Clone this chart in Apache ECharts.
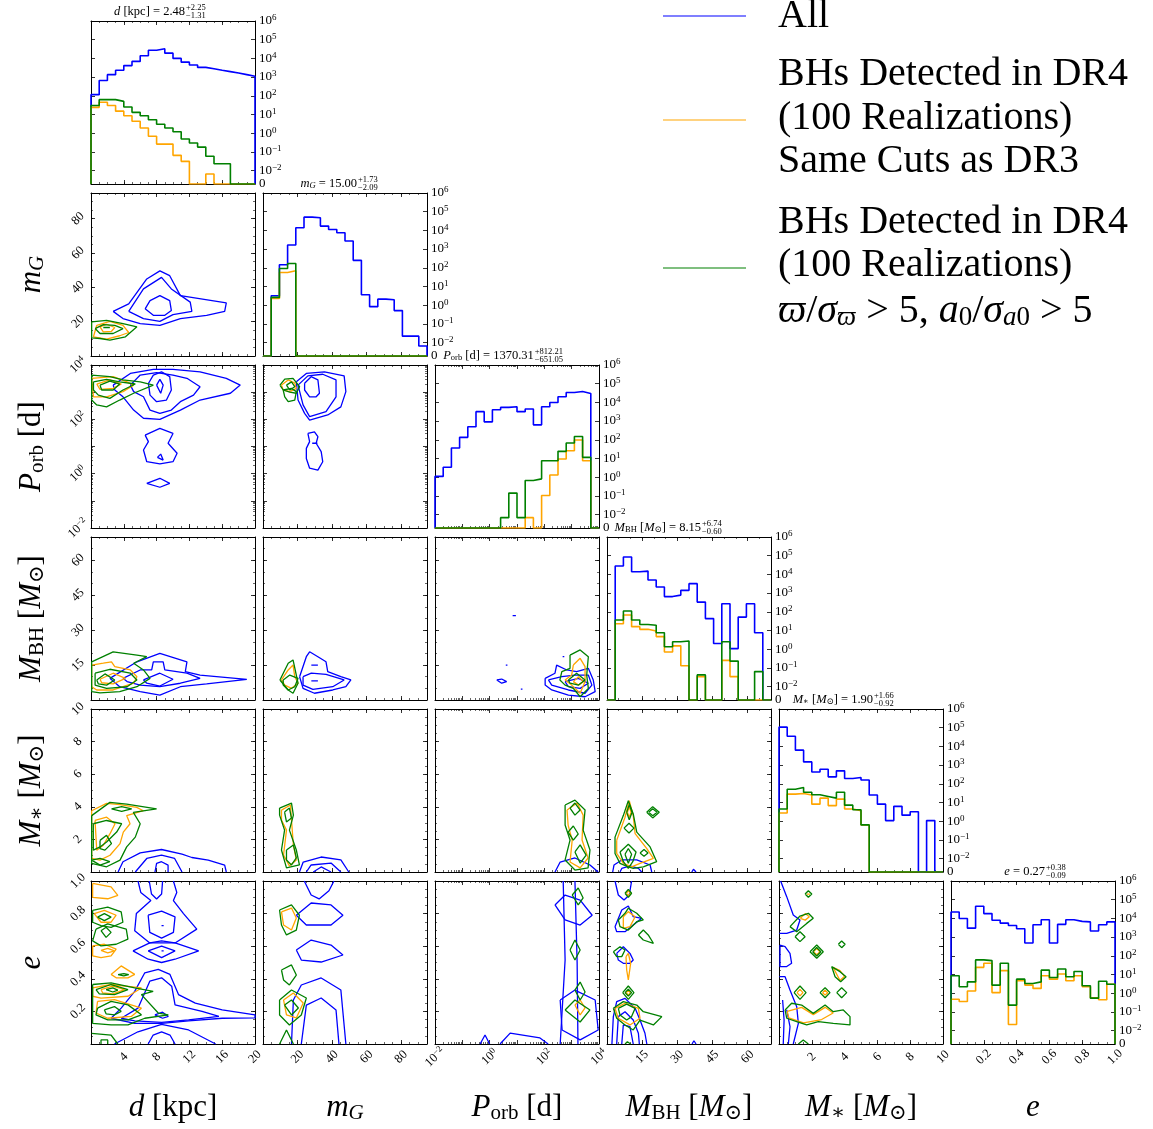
<!DOCTYPE html>
<html>
<head>
<meta charset="utf-8">
<script src="https://cdn.jsdelivr.net/npm/echarts@6/dist/echarts.min.js"></script>
<style>
html,body{margin:0;padding:0;background:#fff}
#main{width:1153px;height:1129px}
</style>
</head>
<body>
<div id="main"></div>
<script>
// ---------- axis ranges & tick labels ----------
var axisMin = [0, 0, -2, 0, 0, 0];
var axisMax = [20, 95, 4, 70, 10, 1];
var ticks_d = [4, 8, 12, 16, 20];
var ticks_mG = [20, 40, 60, 80];
var ticks_P = [-2, 0, 2, 4];
var ticks_MBH = [15, 30, 45, 60];
var ticks_Mst = [2, 4, 6, 8, 10];
var ticks_e = [0.2, 0.4, 0.6, 0.8, 1.0];
var histLevels = [0, 0.01, 0.1, 1, 10, 100, 1000, 1e4, 1e5, 1e6];

// ---------- 1D histograms (20 bins, weighted counts) ----------
var hist_d_all = [115,660,1350,2300,4100,6900,13800,27000,33000,19000,10000,6300,4400,3300,2800,2300,1950,1650,1350,1100];
var hist_d_dr3 = [24,45,30,15,8.5,4.3,1.9,0.68,0.26,0.26,0.065,0.031,0,0,0.0065,0,0,0,0,0];
var hist_d_dr4 = [30,62,62,50,25,13,8.5,5.2,3,1.9,1.2,0.49,0.3,0.18,0.058,0.023,0.023,0,0,0];

var hist_mG_all = [0,3.2,145,1650,13800,51000,47000,17000,11200,7500,2700,250,3.6,0.83,2.1,1.95,0.51,0.022,0.022,0.0065];
var hist_mG_dr3 = [0,2.3,56,69,0,0,0,0,0,0,0,0,0,0,0,0,0,0,0,0];
var hist_mG_dr4 = [0,2.6,91,170,0,0,0,0,0,0,0,0,0,0,0,0,0,0,0,0];

var hist_P_all = [1.1,3.4,36,135,500,3200,910,4000,5400,5800,3200,4400,630,5800,9800,20000,34000,38000,30000,0];
var hist_P_dr3 = [0,0,0,0,0,0,0,0,0,0,0,0.0068,0,0.105,1.3,9.4,26,97,7.6,0];
var hist_P_dr4 = [0,0,0,0,0,0,0,0,0.0068,0.14,0.0068,0.66,0.81,7.6,7.6,24,67,150,11.5,0];

var hist_MBH_all = [0,28000,85000,13800,15000,5000,2100,650,780,1400,3200,330,43,2,270,1.07,52,270,7.6,0];
var hist_MBH_dr3 = [0,23,67,16,11.5,9.3,4.7,0.71,1.5,0.13,0,0.034,0,0,0.25,0.034,0,0,0,0];
var hist_MBH_dr4 = [0,36,110,36,21,19,7.6,1.35,2.5,2.75,0,0.042,0,0,2.5,0.23,0,0,0.063,0];

var hist_Mst_all = [107000,35000,6300,1480,430,600,235,490,190,215,160,25,8.1,1.07,6.2,2.1,3.2,0,1.07,0];
var hist_Mst_dr3 = [2.75,28,30,25,8.1,17,6.8,15,4.5,3.6,0.63,0,0,0,0,0,0,0,0,0];
var hist_Mst_dr4 = [4.5,51,63,35,26,21,17,35,7.2,4.1,0.63,0,0,0,0,0,0,0,0,0];

var hist_e_all = [22000,9800,3000,45000,18000,7900,5600,4200,2800,480,4600,8500,480,4800,8500,6900,6500,2100,4600,6500];
var hist_e_dr3 = [0.47,0.36,1.3,24,40,1.07,16,0.021,4.6,2.7,1.8,8.5,5.6,10.5,4.6,8.5,2.2,0.57,0.44,3];
var hist_e_dr4 = [8.5,2.2,4,60,55,2.7,40,0.23,5.6,3.3,4,17,6.9,19.5,7.6,14.5,2.5,0.54,4.3,3];

// ---------- 2D contours, in data units [x, y] ----------
var cont_mG_d = {
  all: [
    [[2.7,26],[4.6,30.4],[6.8,44.9],[8.4,49.6],[9.6,46.8],[10.9,35.2],[16.5,31],[16.3,26],[14.1,23.7],[10.9,21.8],[8.4,17.9],[6.0,18.9],[3.9,21.8]],
    [[4.6,26],[6.4,39.1],[8.6,45.8],[9.8,39.1],[12.1,31.4],[12.3,26],[10,24.1],[8.4,20.2],[6.4,21.8]],
    [[6.6,27.5],[7.2,32.3],[8.4,35.2],[9.6,32.3],[9.8,26.5],[9,23.7],[7.6,23.7]]
  ],
  dr3: [
    [[0.7,17.9],[2.3,20.2],[3.9,17.9],[4.6,13.7],[3.5,11.8],[1.9,9.8],[0.3,11.2]],
    [[1.1,17],[1.9,18.5],[2.9,16.6],[2.5,14.4],[1.5,14.1]]
  ],
  dr4: [
    [[0.08,19.9],[1.9,20.8],[3.9,18.9],[5.6,17],[4.2,11.2],[2.3,9.3],[1.1,10.2],[0.08,10.6]],
    [[0.5,16],[1.5,18.3],[2.9,17.9],[3.9,16],[2.7,13.1],[1.1,13.1]]
  ],
  dr4Open: [[[1.5,16.6],[2.3,16.6]]]
};

var cont_P_d = {
  all: [
    [[2.7,3.26],[4.8,3.69],[7.6,3.84],[10,3.84],[13.3,3.75],[16.5,3.51],[18.2,3.26],[17,2.96],[13.3,2.71],[10.9,2.34],[8.4,2.0],[6.4,2.04],[5.2,2.34],[3.9,2.83],[2.9,3.08]],
    [[4.8,3.26],[6,3.63],[8,3.72],[10,3.63],[11.7,3.51],[13.3,3.2],[12.5,2.89],[10.9,2.65],[9.8,2.34],[8.4,2.22],[7.2,2.34],[6.4,2.83],[5.2,3.02]],
    [[7,3.32],[7.6,3.63],[8.6,3.75],[9.6,3.57],[9.8,3.08],[9.2,2.71],[8,2.65],[7.2,2.89]],
    [[8,3.26],[8.4,3.47],[8.8,3.26],[8.5,2.96]],
    [[6.6,1.42],[8.4,1.67],[10,1.48],[9.4,1.12],[10.5,0.75],[10,0.44],[8.4,0.36],[6.8,0.44],[6.4,0.87],[7,1.18]],
    [[8.1,0.6],[8.5,0.72],[8.8,0.5]],
    [[6.8,-0.36],[8.4,-0.17],[9.6,-0.36],[8.4,-0.5]]
  ],
  dr3: [
    [[0.08,3.51],[2.7,3.57],[4.4,3.38],[5.2,3.26],[3.9,3.02],[1.9,2.83],[0.3,2.83]],
    [[0.7,3.3],[2.3,3.45],[3.7,3.3],[2.7,3.14],[1.1,3.1]]
  ],
  dr4: [
    [[0.08,3.63],[2.3,3.57],[3.9,3.45],[6,3.38],[7.6,3.26],[5.2,2.96],[3.5,2.71],[1.9,2.46],[0.7,2.53],[0.08,2.71]],
    [[0.3,3.38],[1.9,3.47],[3.5,3.38],[5.4,3.3],[3.9,3.08],[2.3,2.77],[0.9,2.89],[0.3,3.08]],
    [[1.1,3.26],[2.3,3.41],[3.5,3.3],[2.7,3.08],[1.3,3.08]]
  ]
};

var cont_P_mG = {
  all: [
    [[19.3,3.38],[25.1,3.69],[35.6,3.75],[47,3.6],[48,3.02],[45.1,2.46],[37.5,2.16],[27,1.97],[24.1,2.22],[20.3,2.71]],
    [[20.3,3.26],[26,3.6],[34.6,3.66],[42.3,3.45],[42.3,2.83],[36.5,2.28],[27,2.1],[23.2,2.53]],
    [[24.1,3.33],[27.9,3.57],[31.8,3.45],[32.7,2.96],[30.8,2.83],[27,2.83],[24.1,3.08]],
    [[26,1.48],[29.8,1.54],[31.8,1.36],[30.8,1.12],[33.7,0.81],[34.6,0.44],[31.8,0.13],[27,0.2],[25.1,0.56],[25.1,0.93],[27,1.18]]
  ],
  allOpen: [[[28.5,1.12],[31.5,1.12]]],
  dr3: [
    [[10.7,3.26],[14.6,3.45],[18.4,3.33],[19.3,3.14],[15.5,3.02],[11.7,3.08]]
  ],
  dr4: [
    [[9.8,3.26],[12.6,3.48],[17.4,3.51],[21.2,3.2],[19.3,2.96],[15.5,3.0],[11.7,3.08]],
    [[13.6,3.26],[16.5,3.38],[18.4,3.2],[15.5,3.08]],
    [[11.7,3.08],[16.5,3.14],[19.3,3.02],[18.4,2.71],[14.6,2.65],[12.6,2.83]]
  ]
};

var cont_MBH_d = {
  all: [
    [[2.3,9.3],[5.6,16.4],[8.4,20],[11.7,16.4],[11.5,12.2],[13.3,10.7],[19,8.9],[14.1,6.9],[10.9,5.7],[8.4,2.1],[6,3.6],[3.5,5.7]],
    [[3.9,9.3],[6,12.9],[7.4,12.9],[7.6,16.4],[8.8,16.4],[9,12.9],[11.7,11.5],[13.3,9.3],[10.9,7.2],[8.4,5.7],[6,6.4],[4.4,7.9]],
    [[6.4,8.6],[8.4,11.5],[10,8.9],[8.4,6],[6.8,7.2]]
  ],
  dr3: [
    [[0.08,15],[1.5,15.8],[2.5,16.4],[2.9,14.3],[4.8,12.9],[5.6,10],[5.2,7.2],[2.7,4.3],[0.7,4.3],[0.08,5.7]],
    [[1.1,8.9],[2.7,11.5],[4.2,9.3],[2.7,6.9],[1.3,7.4]]
  ],
  dr4: [
    [[0.08,16.4],[2.7,20.7],[5.6,19.3],[6.8,18.6],[5.2,15.8],[6.4,12.9],[7.2,9.3],[5.6,5.7],[3.5,3.6],[1.1,3.1],[0.08,3.6]],
    [[0.5,11.5],[2.3,13.2],[4.8,11.5],[5.6,8.6],[4.4,5.7],[1.9,5],[0.5,6.4]],
    [[0.7,8.6],[1.7,11.2],[2.9,8.6],[1.9,6.4],[0.9,6.9]]
  ]
};

var cont_MBH_mG = {
  all: [
    [[21.2,10],[25.1,18.6],[27,20.7],[31.8,18.6],[36.5,16.4],[37.5,12.2],[45.1,10],[50.9,8.6],[48,5.7],[40.4,4.3],[29.8,2.9],[23.2,5]],
    [[23.2,10],[28,11.5],[36.5,11],[47,8.6],[40.4,5.7],[28.9,4.6],[23.2,6.4]]
  ],
  allOpen: [[[28,15],[31.8,15]], [[28,8.2],[31.8,8.2]]],
  dr3: [
    [[10.7,8.6],[14.6,12.9],[17.4,15],[18.4,10],[20.3,7.2],[16.5,5],[12.6,6.4]]
  ],
  dr4: [
    [[9.8,8.6],[14.6,15.8],[17.4,17.2],[19.3,10.7],[20.3,7.2],[17.4,2.9],[14.6,4.3]],
    [[11.7,8.6],[15.5,10.7],[20.3,9.3],[18.4,5.7],[14.6,4.3],[11.7,6.4]]
  ]
};

var cont_MBH_P = {
  all: [
    [[2.03,9.3],[2.39,11.5],[2.45,15],[2.82,12.9],[3.18,12.2],[3.61,13.6],[3.79,8.6],[3.86,3.6],[3.49,1.4],[2.88,2.1],[2.27,4.3],[2.03,6.4]],
    [[2.15,8.6],[2.64,10],[3.12,10.7],[3.61,10.7],[3.74,6.4],[3.49,2.9],[2.88,4.3],[2.27,6.4]],
    [[2.76,7.9],[3.25,9.3],[3.61,7.2],[3.31,5],[2.88,5.7]],
    [[0.26,8.6],[0.44,9],[0.62,7.9],[0.44,7.2]],
    [[0.84,36.2],[0.9,36.9],[0.96,36.2],[0.9,35.5]],
    [[0.59,15],[0.62,15.3],[0.65,15],[0.62,14.7]],
    [[1.14,4.7],[1.17,5],[1.2,4.7],[1.17,4.4]],
    [[2.67,18.6],[2.7,18.9],[2.73,18.6],[2.7,18.3]]
  ],
  dr3: [
    [[3.06,15],[3.31,17.9],[3.49,14.3],[3.49,7.9],[3.31,2.9],[3.0,6.4],[2.76,8.6],[3.0,10.7]],
    [[3.06,7.9],[3.25,10],[3.43,7.9],[3.25,6.4]]
  ],
  dr4: [
    [[2.94,19.3],[3.31,21.5],[3.61,18.6],[3.55,10.7],[3.61,5],[3.31,1.4],[3.06,5],[2.76,6.4],[2.57,8.6],[2.64,12.2],[2.94,13.6]],
    [[2.88,8.6],[3.18,11.5],[3.49,8.6],[3.25,6.4],[2.94,7.2]]
  ]
};

var cont_Mst_d = {
  allOpen: [
    [[3.3,0],[3.9,0.63],[6,1.17],[8.6,1.38],[11.1,1.09],[12.3,0.89],[14.3,0.73],[16.3,0.42],[16.5,0]],
    [[5.4,0],[6.8,0.83],[8.6,1.03],[10.2,0.83],[11.1,0]],
    [[7.8,0],[8,0.53],[8.6,0.63],[9.4,0.42],[9.4,0]]
  ],
  dr3: [
    [[0.08,3.76],[1.9,4.21],[3.54,4.13],[5.57,3.96],[6.38,3.76],[4.35,3.46],[4.76,2.96],[3.94,2.45],[3.54,1.74],[2.32,1.03],[1.1,0.73],[0.08,0.83]],
    [[0.49,3.16],[1.91,3.36],[2.93,2.96],[2.32,2.35],[1.5,1.64],[0.7,1.34]]
  ],
  dr4: [
    [[0.08,3.46],[2.3,4.27],[4.35,4.17],[8,3.87],[5.16,3.66],[6,2.96],[5.4,2.14],[4.35,1.54],[3.54,0.73],[1.9,0.32],[0.08,0.53]],
    [[0.28,2.96],[1.9,3.16],[3.74,2.96],[3.13,2.45],[1.9,1.84],[1.1,1.54],[0.28,1.34]],
    [[2.5,3.87],[3.74,4.01],[4.96,3.87],[3.74,3.72]],
    [[1.1,1.94],[1.9,2.25],[2.5,1.74],[1.7,1.34],[1.1,1.44]],
    [[0.08,0.73],[1.1,0.83],[2.3,0.63],[1.1,0.42]]
  ]
};

var cont_Mst_mG = {
  allOpen: [
    [[21.1,0],[23.3,0.61],[33.7,0.92],[45.1,0.74],[49.7,0]],
    [[25.1,0],[27.9,0.43],[39.4,0.55],[45.1,0]],
    [[29.1,0],[33.7,0.31],[39.4,0]]
  ],
  dr3: [
    [[10.7,3.8],[15.9,4.11],[16.5,3.19],[17.6,1.66],[19.3,0.74],[15.3,0.37],[11.9,1.04],[13.6,2.57],[10.7,3.19]]
  ],
  dr4: [
    [[9.6,3.92],[16.5,4.23],[17.6,3.49],[15.3,2.57],[19.3,1.35],[21.1,0.43],[13.6,0.25],[10.7,1.35],[12.5,2.57],[9.6,3.49]],
    [[12.5,3.68],[15.3,3.92],[16.5,3.31],[13.6,3.07]],
    [[13.6,1.35],[17.6,1.66],[19.3,0.86],[16.5,0.43],[13.6,0.74]]
  ]
};

var cont_Mst_P = {
  allOpen: [
    [[2.39,0],[2.58,0.61],[3.12,0.86],[3.67,0.43],[3.97,0]]
  ],
  dr3: [
    [[2.83,3.8],[3.2,4.23],[3.42,3.49],[3.38,1.96],[3.6,0.86],[3.31,0.25],[2.94,0.61],[3.02,1.96],[2.87,2.88]]
  ],
  dr4: [
    [[2.76,4.11],[3.12,4.41],[3.49,3.8],[3.42,2.57],[3.67,1.35],[3.6,0.25],[3.12,0.12],[2.76,0.74],[2.94,1.96],[2.76,2.88]],
    [[2.94,3.92],[3.12,4.23],[3.31,3.8],[3.12,3.49]],
    [[2.87,2.45],[3.06,2.82],[3.24,2.33],[3.06,1.96]],
    [[3.12,1.23],[3.31,1.66],[3.53,1.04],[3.31,0.55]]
  ]
};

var cont_Mst_MBH = {
  allOpen: [
    [[2.43,0],[3.0,0.43],[6.3,0.74],[12.7,0.74],[18.4,0.43],[19.1,0]],
    [[5.55,0],[6.3,0.22],[9.8,0.37],[13.4,0.22],[14.8,0]],
    [[36.2,0],[36.9,0.17],[38,0]]
  ],
  dr3: [
    [[4.14,1.94],[7.69,3.36],[9.5,4.37],[11.2,3.46],[12,2.35],[17,1.44],[19.8,0.83],[14.1,0.53],[10.5,0.32],[7,0.53],[4.14,1.14]],
    [[8.7,3.66],[9.5,3.98],[10.3,3.66],[9.5,3.35]]
  ],
  dr4: [
    [[3.42,2.14],[6.96,3.46],[9.1,4.37],[11.2,3.56],[12.7,2.45],[18.4,1.54],[21.2,0.63],[15.5,0.32],[11.2,0.22],[9.1,0.32],[5.55,0.53],[3.42,1.14]],
    [[8.4,3.66],[9.5,4.13],[10.7,3.66],[9.5,3.2]],
    [[7.26,2.69],[9.4,2.99],[11.5,2.69],[9.4,2.39]],
    [[5.55,1.23],[9.1,1.7],[12.4,1.23],[11,0.63],[9.1,0.22],[7,0.63]],
    [[7.69,1.09],[9.1,1.44],[10.5,1.09],[9.1,0.53]],
    [[14.1,1.17],[15.8,1.38],[17.5,1.17],[15.8,0.97]],
    [[16.95,3.66],[19.5,4.01],[22.3,3.66],[19.5,3.32]],
    [[17.8,3.66],[19.5,3.88],[21.4,3.66],[19.5,3.45]]
  ]
};

var cont_e_d = {
  all: [
    [[6.97,0.79],[8.61,0.815],[10.25,0.78],[10.05,0.685],[8.61,0.65],[7.17,0.685]],
    [[5.12,0.571],[7.17,0.62],[8.61,0.633],[10.25,0.62],[13.13,0.571],[10.25,0.52],[8.61,0.5],[6.97,0.52]],
    [[6.97,0.571],[8.61,0.6],[10.25,0.571],[8.61,0.53]],
    [[2.45,0.158],[3.68,0.22],[5.33,0.323],[6.56,0.437],[8.2,0.458],[9.63,0.427],[10.67,0.303],[12.72,0.251],[16,0.21],[20,0.179],[20,0.16],[16,0.158],[11.9,0.142],[8.61,0.127],[5.33,0.127]],
    [[3.68,0.158],[5.73,0.22],[7.17,0.385],[8.61,0.406],[9.84,0.355],[10.25,0.24],[13.54,0.2],[15.6,0.169],[11.9,0.148],[8.61,0.133],[5.33,0.142]],
    [[7.79,0.179],[8.73,0.195],[9.43,0.169],[8.73,0.158]],
    [[8.6,0.726],[8.73,0.733],[8.86,0.726],[8.73,0.719]],
    [[8.6,0.571],[8.73,0.578],[8.86,0.571],[8.73,0.564]]
  ],
  allOpen: [
    [[5.73,1],[6.07,0.93],[7.3,0.88],[5.53,0.8],[5.33,0.695],[7.17,0.62],[10.25,0.62],[12.9,0.705],[11.28,0.8],[10.05,0.88],[10.46,0.93],[10.05,1]],
    [[7.1,1],[7.38,0.92],[8,0.89],[8.61,0.92],[8.73,1]],
    [[2.86,0],[5.73,0.075],[8.61,0.12],[11.9,0.086],[15.2,0]],
    [[6.97,0],[7.58,0.055],[8.61,0.075],[9.63,0.055],[10.25,0]]
  ],
  dr3: [
    [[0.2,0.985],[2.45,0.964],[3.27,0.912],[2.04,0.891],[0.2,0.9]],
    [[0.4,0.8],[1.63,0.82],[3.07,0.79],[2.45,0.747],[1.22,0.747]],
    [[0.2,0.602],[1.63,0.612],[3.07,0.582],[2.45,0.54],[1.22,0.53],[0.2,0.54]],
    [[1.22,0.575],[2.04,0.586],[2.86,0.571],[2.04,0.559]],
    [[2.45,0.427],[3.68,0.479],[5.33,0.427],[4.5,0.406],[3.07,0.406]],
    [[0.2,0.344],[2.45,0.365],[6.15,0.344],[4.51,0.293],[1.22,0.282],[0.2,0.293]],
    [[1.22,0.334],[2.66,0.355],[4.1,0.334],[2.66,0.307],[1.43,0.313]],
    [[0.8,0.261],[2.86,0.272],[6.15,0.22],[4.91,0.169],[2.04,0.158],[0.61,0.19]]
  ],
  dr4: [
    [[0.2,0.82],[2.04,0.84],[3.68,0.81],[3.89,0.747],[2.45,0.716],[1.22,0.726],[0.2,0.747]],
    [[0.8,0.778],[1.63,0.8],[2.45,0.778],[1.63,0.757]],
    [[0.61,0.705],[2.04,0.737],[4.3,0.705],[4.5,0.643],[3.07,0.612],[1.22,0.602],[0.2,0.633]],
    [[1.22,0.695],[1.84,0.716],[2.45,0.685],[1.84,0.654]],
    [[0.2,0.365],[2.45,0.375],[5.33,0.344],[7.58,0.323],[6.15,0.303],[8.2,0.19],[9.43,0.179],[6.56,0.158],[4.51,0.117],[2.45,0.117],[0.2,0.127]],
    [[0.61,0.334],[2.45,0.365],[4.51,0.334],[2.86,0.303],[1.01,0.307]],
    [[1.84,0.334],[2.66,0.344],[3.27,0.33],[2.66,0.319]],
    [[0.8,0.22],[2.45,0.261],[4.51,0.24],[6.15,0.179],[4.51,0.148],[2.04,0.148],[0.61,0.179]],
    [[1.63,0.21],[2.86,0.23],[3.68,0.2],[2.86,0.179],[1.84,0.185]],
    [[3.3,0.425],[4.0,0.432],[4.6,0.425],[4.0,0.418]]
  ],
  dr4Open: [
    [[0.08,0.065],[2.45,0.055],[3.27,0]],
    [[1.22,0],[1.22,0.025],[2.04,0.025],[2.04,0]]
  ]
};

var cont_e_mG = {
  all: [
    [[19.3,0.79],[27.9,0.865],[39.4,0.853],[46.3,0.79],[39.4,0.73],[25.1,0.73]],
    [[19.3,0.577],[27.9,0.638],[39.4,0.607],[46.3,0.546],[33.7,0.503],[22.2,0.515]]
  ],
  allOpen: [
    [[23.9,1],[27.9,0.914],[32.5,0.89],[38.2,0.94],[41.1,1]],
    [[16.5,0],[17.6,0.27],[22.2,0.362],[33.7,0.405],[45.1,0.331],[48,0]],
    [[22.2,0],[25.1,0.239],[33.7,0.282],[42.3,0.209],[44,0]]
  ],
  dr3: [
    [[10.7,0.81],[16.5,0.834],[19.3,0.773],[16.5,0.699],[11.9,0.73]],
    [[11.9,0.27],[17.6,0.313],[23.3,0.252],[19.3,0.16],[13.6,0.178]]
  ],
  dr4: [
    [[9.6,0.822],[16.5,0.853],[21.1,0.79],[19.3,0.699],[13.6,0.669],[10.7,0.73]],
    [[10.7,0.454],[16.5,0.485],[19.3,0.423],[15.3,0.362],[11.9,0.393]],
    [[9.6,0.27],[16.5,0.331],[25.1,0.282],[22.2,0.178],[15.3,0.117],[9.6,0.178]],
    [[12.5,0.239],[16.5,0.27],[20.5,0.221],[16.5,0.178]]
  ],
  dr4Open: [[[9.6,0],[13.6,0.086],[17.6,0]]]
};

var cont_e_P = {
  all: [
    [[2.39,0.853],[2.76,0.914],[3.31,0.883],[3.75,0.79],[3.31,0.73],[2.76,0.761]],
    [[2.58,0.27],[3.12,0.331],[3.86,0.27],[3.97,0.086],[3.31,0.025],[2.65,0.086]]
  ],
  allOpen: [
    [[2.69,1],[2.76,0.515],[2.58,0]],
    [[3.12,1],[3.2,0.5],[3.23,0]],
    [[-0.35,0],[-0.17,0.055],[0,0]],
    [[0.38,0],[0.75,0.067],[1.84,0.037],[2.14,0]]
  ],
  dr3: [
    [[3.12,0.239],[3.31,0.27],[3.49,0.221],[3.31,0.178]]
  ],
  dr4: [
    [[2.94,0.577],[3.12,0.638],[3.31,0.577],[3.12,0.515]],
    [[3.12,0.331],[3.31,0.38],[3.49,0.319],[3.31,0.27]],
    [[2.76,0.209],[3.12,0.27],[3.67,0.209],[3.31,0.135]],
    [[3.02,0.914],[3.24,0.957],[3.42,0.896],[3.24,0.853]]
  ]
};

var cont_e_MBH = {
  all: [
    [[3.42,0.72],[6.3,0.822],[9.1,0.847],[11.2,0.781],[14.8,0.771],[11.2,0.73],[7.69,0.689],[4.14,0.689]],
    [[4.14,0.556],[6.96,0.597],[9.8,0.556],[11.2,0.515],[9.8,0.495],[6.96,0.495],[4.83,0.515]]
  ],
  allOpen: [
    [[3.42,1],[4.83,0.914],[7.26,0.883],[9.5,0.914],[10.5,1]],
    [[2.1,0],[2.7,0.168],[4.14,0.26],[7.69,0.28],[12,0.219],[14.1,0.147],[16.2,0.066],[17,0]],
    [[4.14,0],[4.83,0.168],[7.69,0.198],[11.2,0.147],[13.4,0.066],[13.8,0]],
    [[6.3,0],[6.96,0.117],[9.8,0.106],[11.2,0]],
    [[36.3,0],[37.1,0.02],[38,0]]
  ],
  dr3: [
    [[8.2,0.925],[9.1,0.94],[10,0.925],[9.1,0.91]],
    [[6.96,0.781],[9.1,0.812],[12,0.781],[9.8,0.72],[6.96,0.71]],
    [[3.42,0.219],[7.69,0.25],[13.4,0.219],[14.1,0.158],[9.8,0.117],[4.83,0.158]],
    [[8.1,0.536],[9.1,0.556],[10.1,0.495],[9.1,0.393],[8.4,0.454]],
    [[8.2,0.315],[9.1,0.33],[10,0.315],[9.1,0.3]]
  ],
  dr4: [
    [[7.69,0.925],[9.1,0.949],[10.5,0.925],[9.1,0.9]],
    [[7.69,0.802],[9.1,0.833],[12.7,0.802],[15.5,0.761],[12.7,0.75],[9.1,0.699],[5.55,0.72],[4.83,0.761]],
    [[13.4,0.669],[15.5,0.699],[17.6,0.669],[19.8,0.618],[15.5,0.638]],
    [[2.7,0.566],[5.55,0.597],[7.69,0.577],[6.3,0.536],[4.14,0.536]],
    [[6.7,0.315],[9.1,0.356],[11.5,0.315],[9.1,0.274]],
    [[7.69,0.315],[9.1,0.336],[10.5,0.315],[9.1,0.294]],
    [[2.7,0.219],[6.96,0.26],[12.7,0.239],[15.5,0.198],[23.4,0.168],[19.8,0.117],[14.1,0.147],[11.2,0.086],[7.69,0.117],[4.14,0.158]],
    [[4.83,0.219],[8.4,0.245],[12,0.219],[10.5,0.168],[8.4,0.147],[5.55,0.178]]
  ],
  dr4Open: [[[7.69,0],[8.7,0.014],[10.1,0]]]
};

var cont_e_Mst = {
  all: [
    [[0.06,0.607],[0.37,0.597],[0.67,0.556],[0.77,0.495],[0.47,0.475],[0.06,0.475]]
  ],
  allOpen: [
    [[0.1,1],[0.47,0.904],[0.87,0.791],[1.28,0.761],[1.08,0.699],[0.47,0.679],[0.02,0.679]],
    [[0.02,0.413],[0.37,0.413],[0.67,0.331],[1.08,0.229],[1.18,0.127],[0.87,0]],
    [[0.26,0],[0.31,0.147],[0.22,0.27]],
    [[0.57,0],[0.67,0.106],[0.47,0.209]]
  ],
  dr3: [
    [[1.69,0.92],[1.79,0.93],[1.89,0.92],[1.79,0.91]],
    [[1.3,0.771],[1.6,0.8],[1.85,0.78],[1.6,0.76]],
    [[2.1,0.566],[2.3,0.585],[2.5,0.566],[2.3,0.547]],
    [[3.3,0.47],[3.72,0.45],[4.0,0.415],[3.72,0.39]],
    [[1.1,0.315],[1.28,0.335],[1.46,0.315],[1.28,0.295]],
    [[2.65,0.315],[2.81,0.33],[2.97,0.315],[2.81,0.3]],
    [[0.5,0.2],[1.38,0.225],[2.09,0.18],[2.81,0.225],[3.3,0.19],[2.6,0.15],[1.5,0.13],[0.6,0.16]]
  ],
  dr4: [
    [[1.59,0.92],[1.79,0.94],[2.0,0.92],[1.79,0.9]],
    [[0.67,0.72],[1.28,0.785],[1.79,0.802],[2.09,0.771],[1.69,0.74],[1.08,0.689]],
    [[0.98,0.658],[1.28,0.689],[1.59,0.658],[1.28,0.628]],
    [[1.89,0.566],[2.3,0.607],[2.7,0.566],[2.3,0.526]],
    [[2.05,0.566],[2.3,0.592],[2.55,0.566],[2.3,0.54]],
    [[3.62,0.612],[3.82,0.632],[4.03,0.612],[3.82,0.591]],
    [[3.21,0.475],[3.72,0.444],[4.09,0.413],[3.76,0.382],[3.42,0.413]],
    [[0.92,0.315],[1.28,0.356],[1.65,0.315],[1.28,0.274]],
    [[2.5,0.315],[2.81,0.345],[3.11,0.315],[2.81,0.284]],
    [[3.52,0.315],[3.82,0.345],[4.13,0.315],[3.82,0.284]],
    [[0.37,0.209],[0.77,0.25],[1.38,0.239],[2.09,0.188],[2.81,0.239],[3.31,0.198],[3.92,0.209],[4.33,0.168],[4.33,0.117],[3.31,0.127],[2.4,0.137],[1.69,0.117],[1.08,0.137],[0.47,0.158]]
  ],
  dr4Open: [[[1.18,0],[1.48,0.025],[1.79,0]]]
};

// ---------- texts ----------
var histTitles = [
  ['{i|d} [kpc] = 2.48', '+2.25', '\u22121.31'],
  ['{i|m}{si|G} = 15.00', '+1.73', '\u22122.09'],
  ['{i|P}{s|orb} [d] = 1370.31', '+812.21', '\u2212651.05'],
  ['{i|M}{s|BH} [{i|M}{s|\u2299}] = 8.15', '+6.74', '\u22120.60'],
  ['{i|M}{s|\u2217} [{i|M}{s|\u2299}] = 1.90', '+1.66', '\u22120.92'],
  ['{i|e} = 0.27', '+0.38', '\u22120.09']
];
var axisTitles = [
  '{i|d} [kpc]',
  '{i|m}{si|G}',
  '{i|P}{s|orb} [d]',
  '{i|M}{s|BH} [{i|M}{s|\u2299}]',
  '{i|M}{s|\u2217} [{i|M}{s|\u2299}]',
  '{i|e}'
];

// ---------- build ----------
var SERIF = 'Liberation Serif, DejaVu Serif, serif';
var COL = {all: '#0000ff', dr3: '#ffa500', dr4: '#008000'};
var L0 = 91, T0 = 21, STEP = 172, W = 164, H = 163;
var ZERO_GAP = 0.72;

var majorLabels = [ticks_d, ticks_mG, ticks_P, ticks_MBH, ticks_Mst, ticks_e];
var majorMarks = [ticks_d, ticks_mG, [-2, -1, 0, 1, 2, 3, 4], ticks_MBH, ticks_Mst, ticks_e];
var minorStep = [1, 5, 0, 5, 0.5, 0.05];
var hists = [
  [hist_d_all, hist_d_dr3, hist_d_dr4],
  [hist_mG_all, hist_mG_dr3, hist_mG_dr4],
  [hist_P_all, hist_P_dr3, hist_P_dr4],
  [hist_MBH_all, hist_MBH_dr3, hist_MBH_dr4],
  [hist_Mst_all, hist_Mst_dr3, hist_Mst_dr4],
  [hist_e_all, hist_e_dr3, hist_e_dr4]
];
var contours = {
  '1_0': cont_mG_d,
  '2_0': cont_P_d, '2_1': cont_P_mG,
  '3_0': cont_MBH_d, '3_1': cont_MBH_mG, '3_2': cont_MBH_P,
  '4_0': cont_Mst_d, '4_1': cont_Mst_mG, '4_2': cont_Mst_P, '4_3': cont_Mst_MBH,
  '5_0': cont_e_d, '5_1': cont_e_mG, '5_2': cont_e_P, '5_3': cont_e_MBH, '5_4': cont_e_Mst
};

function histY(v) { return v > 0 ? Math.max(0, Math.log10(v) + 2 + ZERO_GAP) : 0; }
var histMarks = histLevels.map(histY);
var HIST_MAX = histY(1e6);

function minorTicks(k) {
  var out = [];
  if (k === 2) {
    for (var dec = -2; dec < 4; dec++) {
      for (var m = 2; m <= 9; m++) out.push(dec + Math.log10(m));
    }
    return out;
  }
  var s = minorStep[k];
  var n = Math.round((axisMax[k] - axisMin[k]) / s);
  for (var t = 0; t <= n; t++) out.push(+(axisMin[k] + t * s).toFixed(4));
  return out;
}

function supNum(v) { return v < 0 ? '\u2212' + (-v) : String(v); }
function tickFmt(k) {
  if (k === 2) return function (v) { return '10{sup|' + supNum(Math.round(v)) + '}'; };
  if (k === 5) return function (v) { return v.toFixed(1); };
  return function (v) { return String(Math.round(v * 100) / 100); };
}

var labelRich = {sup: {fontSize: 9, fontFamily: SERIF, verticalAlign: 'top', padding: [0, 0, 5, 0]}};

var grids = [], xAxes = [], yAxes = [], series = [], graphics = [];

function addAxis(list, g, k, pos, showLabel) {
  list.push({
    type: 'value', gridIndex: g, min: axisMin[k], max: axisMax[k], position: pos,
    axisLine: {show: true, onZero: false, lineStyle: {color: '#000', width: 1}},
    axisTick: {show: true, inside: true, length: 4, customValues: majorMarks[k], lineStyle: {color: '#000', width: 0.8}},
    axisLabel: {
      show: showLabel, customValues: majorLabels[k], formatter: tickFmt(k),
      rotate: 45, align: 'center', verticalAlign: 'middle', margin: 13,
      fontFamily: SERIF, fontSize: 12.5, color: '#000', rich: labelRich
    },
    splitLine: {show: false}
  });
  list.push({
    type: 'value', gridIndex: g, min: axisMin[k], max: axisMax[k], position: pos,
    axisLine: {show: false, onZero: false},
    axisTick: {show: true, inside: true, length: 2, customValues: minorTicks(k), lineStyle: {color: '#000', width: 0.6}},
    axisLabel: {show: false},
    splitLine: {show: false}
  });
}

function addHistAxis(list, g, pos, showLabel) {
  list.push({
    type: 'value', gridIndex: g, min: 0, max: HIST_MAX, position: pos,
    axisLine: {show: true, onZero: false, lineStyle: {color: '#000', width: 1}},
    axisTick: {show: true, inside: true, length: 4, customValues: histMarks, lineStyle: {color: '#000', width: 0.8}},
    axisLabel: {
      show: showLabel, customValues: histMarks, margin: 4,
      formatter: function (v) {
        if (v < 0.01) return '0';
        return '10{sup|' + supNum(Math.round(v - 2 - ZERO_GAP)) + '}';
      },
      align: 'left', verticalAlign: 'middle',
      fontFamily: SERIF, fontSize: 13, color: '#000',
      rich: {sup: {fontSize: 9, fontFamily: SERIF, verticalAlign: 'top', padding: [0, 0, 6, 0]}}
    },
    splitLine: {show: false}
  });
}

function histSeries(vals, k, xi, yi, color) {
  var lo = axisMin[k], hi = axisMax[k], n = vals.length;
  var pts = [[lo, 0]];
  for (var b = 0; b < n; b++) pts.push([lo + (hi - lo) * b / n, histY(vals[b])]);
  pts.push([hi, histY(vals[n - 1])]);
  pts.push([hi, 0]);
  return {
    type: 'line', xAxisIndex: xi, yAxisIndex: yi, data: pts, step: 'end',
    symbol: 'none', silent: true, animation: false,
    lineStyle: {color: color, width: 1.6}
  };
}

function ringSeries(pts, close, xi, yi, color) {
  return {
    type: 'line', xAxisIndex: xi, yAxisIndex: yi,
    data: close ? pts.concat([pts[0]]) : pts,
    symbol: 'none', silent: true, animation: false, clip: true,
    lineStyle: {color: color, width: 1.3}
  };
}

var g = 0;
for (var i = 0; i < 6; i++) {
  for (var j = 0; j <= i; j++) {
    grids.push({left: L0 + STEP * j, top: T0 + STEP * i, width: W, height: H});
    var xi = xAxes.length;
    addAxis(xAxes, g, j, 'bottom', i === 5);
    addAxis(xAxes, g, j, 'top', false);
    var yi = yAxes.length;
    if (i === j) {
      addHistAxis(yAxes, g, 'left', false);
      addHistAxis(yAxes, g, 'right', true);
      series.push(histSeries(hists[i][0], i, xi, yi, COL.all));
      series.push(histSeries(hists[i][1], i, xi, yi, COL.dr3));
      series.push(histSeries(hists[i][2], i, xi, yi, COL.dr4));
    } else {
      addAxis(yAxes, g, i, 'left', j === 0);
      addAxis(yAxes, g, i, 'right', false);
      var c = contours[i + '_' + j];
      ['all', 'dr3', 'dr4'].forEach(function (key) {
        (c[key] || []).forEach(function (r) { series.push(ringSeries(r, true, xi, yi, COL[key])); });
        (c[key + 'Open'] || []).forEach(function (r) { series.push(ringSeries(r, false, xi, yi, COL[key])); });
      });
    }
    g++;
  }
}

// titles over the diagonal histograms
histTitles.forEach(function (t, k) {
  var cx = L0 + STEP * k + W / 2 + t[1].length * 2.4;
  var ty = T0 + STEP * k - 9;
  var rich = {
    i: {fontStyle: 'italic', fontSize: 12.5, fontFamily: SERIF},
    s: {fontSize: 8.5, fontFamily: SERIF, verticalAlign: 'bottom'},
    si: {fontSize: 8.5, fontStyle: 'italic', fontFamily: SERIF, verticalAlign: 'bottom'}
  };
  graphics.push({type: 'text', x: cx, y: ty, silent: true,
    style: {text: t[0], align: 'right', verticalAlign: 'middle', fontSize: 12.5, fontFamily: SERIF, fill: '#000', rich: rich}});
  graphics.push({type: 'text', x: cx + 1, y: ty - 4.5, silent: true,
    style: {text: t[1], align: 'left', verticalAlign: 'middle', fontSize: 8.5, fontFamily: SERIF, fill: '#000'}});
  graphics.push({type: 'text', x: cx + 1, y: ty + 4, silent: true,
    style: {text: t[2], align: 'left', verticalAlign: 'middle', fontSize: 8.5, fontFamily: SERIF, fill: '#000'}});
});

// axis titles
var bigRich = {
  i: {fontStyle: 'italic', fontSize: 31, fontFamily: SERIF},
  s: {fontSize: 21, fontFamily: SERIF, verticalAlign: 'bottom', padding: [10, 0, 0, 0]},
  si: {fontSize: 21, fontStyle: 'italic', fontFamily: SERIF, verticalAlign: 'bottom', padding: [10, 0, 0, 0]}
};
axisTitles.forEach(function (t, k) {
  graphics.push({type: 'text', x: L0 + STEP * k + W / 2, y: 1108, silent: true,
    style: {text: t, align: 'center', verticalAlign: 'middle', fontSize: 31, fontFamily: SERIF, fill: '#000', rich: bigRich}});
  if (k > 0) {
    graphics.push({type: 'text', x: 32, y: T0 + STEP * k + H / 2, rotation: Math.PI / 2, silent: true,
      style: {text: t, align: 'center', verticalAlign: 'middle', fontSize: 31, fontFamily: SERIF, fill: '#000', rich: bigRich}});
  }
});

// legend
var legRich = {
  i: {fontStyle: 'italic', fontSize: 40, fontFamily: SERIF},
  s: {fontSize: 27, fontFamily: SERIF, verticalAlign: 'bottom', padding: [13, 0, 0, 0]},
  si: {fontSize: 27, fontStyle: 'italic', fontFamily: SERIF, verticalAlign: 'bottom', padding: [13, 0, 0, 0]}
};
[[16, COL.all], [120, COL.dr3], [268, COL.dr4]].forEach(function (l) {
  graphics.push({type: 'line', silent: true, shape: {x1: 663, y1: l[0], x2: 746, y2: l[0]},
    style: {stroke: l[1], lineWidth: 1.2}});
});
var legTexts = [
  ['All', 16],
  ['BHs Detected in DR4', 74], ['(100 Realizations)', 118], ['Same Cuts as DR3', 161],
  ['BHs Detected in DR4', 222], ['(100 Realizations)', 265],
  ['{i|\u03d6}/{i|\u03c3}{si|\u03d6} > 5, {i|a}{s|0}/{i|\u03c3}{si|a}{s|0} > 5', 311]
];
legTexts.forEach(function (t) {
  graphics.push({type: 'text', x: 778, y: t[1], silent: true,
    style: {text: t[0], align: 'left', verticalAlign: 'middle', fontSize: 40, fontFamily: SERIF, fill: '#000', rich: legRich}});
});

var chart = echarts.init(document.getElementById('main'));
chart.setOption({
  animation: false,
  backgroundColor: '#fff',
  textStyle: {fontFamily: SERIF},
  grid: grids,
  xAxis: xAxes,
  yAxis: yAxes,
  series: series,
  graphic: graphics
});
</script>
</body>
</html>
